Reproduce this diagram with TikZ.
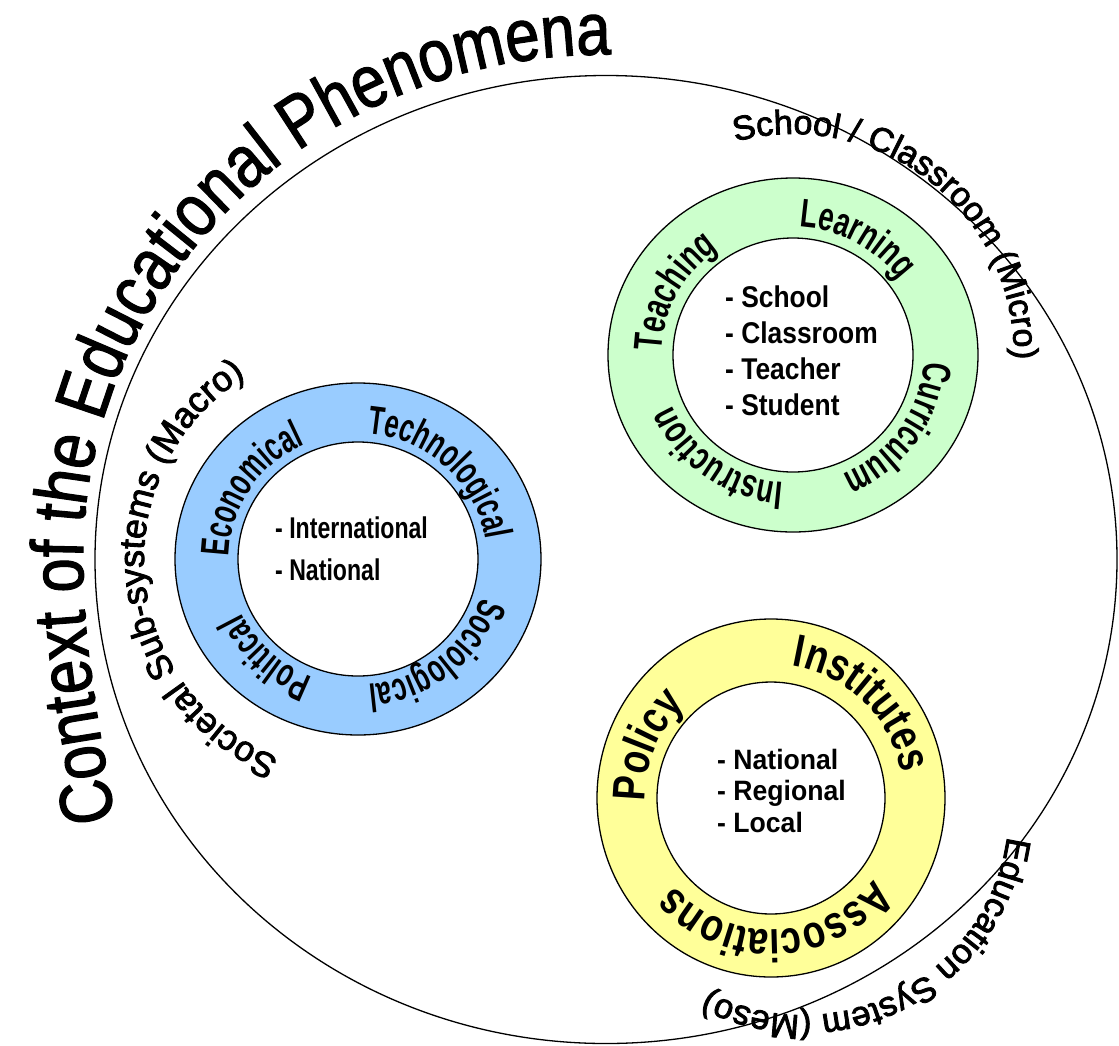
\documentclass[tikz,border=0pt]{standalone}
\usepackage{fontspec}
\setmainfont{Liberation Sans}
\usetikzlibrary{decorations.text}
\newfontfamily\fTitle[FakeStretch=0.835,FakeBold=1.5]{Liberation Sans}
\newfontfamily\fOuter[FakeBold=2.5]{Liberation Sans}
\newfontfamily\fBlue[FakeStretch=0.64]{Liberation Sans Bold}
\newfontfamily\fGreen[FakeStretch=0.69]{Liberation Sans Bold}
\newfontfamily\fYellow[FakeStretch=0.8]{Liberation Sans Bold}
\newfontfamily\fListB[FakeStretch=0.77]{Liberation Sans Bold}
\newfontfamily\fListG[FakeStretch=0.88]{Liberation Sans Bold}
\newfontfamily\fListY[FakeStretch=0.95]{Liberation Sans Bold}
\newcommand{\arclabel}[6]{%
  \path[decorate,decoration={text along path,text align=center,text={#6}}]
    (#1) ++(#4:#2 and #3) arc[start angle=#4,end angle=#5,x radius=#2,y radius=#3];}
\definecolor{ringblue}{HTML}{99CCFF}
\definecolor{ringgreen}{HTML}{CCFFCC}
\definecolor{ringyellow}{HTML}{FFFF99}
\begin{document}
\begin{tikzpicture}[x=1pt,y=1pt]
\tikzset{
  ringline/.style={draw=black,line width=1.3pt},
  listnode/.style={anchor=west,inner sep=0pt,align=left}
}
\useasboundingbox (0,0) rectangle (1119,-1045);
\coordinate (big) at (606,-559.5);
\coordinate (bc) at (358,-559);
\coordinate (gc) at (793,-355);
\coordinate (yc) at (771,-798);
\coordinate (ec) at (803,-809);
\coordinate (tstart) at (115,-820);
\coordinate (tleft) at (83,-559.5);
% big circle
\draw[ringline] (big) ellipse [x radius=511,y radius=484];
% rings
\draw[ringline,fill=ringblue] (bc) ellipse [x radius=183,y radius=176];
\draw[ringline,fill=white] (bc) ellipse [x radius=120,y radius=117];
\draw[ringline,fill=ringgreen] (gc) ellipse [x radius=185,y radius=177];
\draw[ringline,fill=white] (gc) ellipse [x radius=120,y radius=117];
\draw[ringline,fill=ringyellow] (yc) ellipse [x radius=174,y radius=179];
\draw[ringline,fill=white] (yc) ellipse [x radius=114,y radius=116];
% lists
\node[listnode,font=\fListB\fontsize{30}{42}\selectfont] (blist) at (275,-549) {- International\\- National};
\node[listnode,font=\fListG\fontsize{30}{36}\selectfont] (glist) at (725,-351) {- School\\- Classroom\\- Teacher\\- Student};
\node[listnode,font=\fListY\fontsize{28}{31.5}\selectfont] (ylist) at (717,-790.5) {- National\\- Regional\\- Local};
% blue ring labels
\arclabel{bc}{129}{126}{217}{77}{|\fBlue\fontsize{40}{42}\selectfont|Economical}
\arclabel{bc}{129}{126}{117}{-23}{|\fBlue\fontsize{40}{42}\selectfont|Technological}
\arclabel{bc}{129}{126}{19}{-121}{|\fBlue\fontsize{40}{42}\selectfont|Sociological}
\arclabel{bc}{129}{126}{-63}{-203}{|\fBlue\fontsize{40}{42}\selectfont|Political}
% green ring labels
\arclabel{gc}{131}{128}{222}{82}{|\fGreen\fontsize{40}{42}\selectfont|Teaching}
\arclabel{gc}{131}{128}{131}{-9}{|\fGreen\fontsize{40}{42}\selectfont|Learning}
\arclabel{gc}{131}{128}{35}{-105}{|\fGreen\fontsize{40}{42}\selectfont|Curriculum}
\arclabel{gc}{131}{128}{-56}{-196}{|\fGreen\fontsize{40}{42}\selectfont|Instruction}
% yellow ring labels
\arclabel{yc}{126}{128}{227}{87}{|\fYellow\fontsize{46}{48}\selectfont|Policy}
\arclabel{yc}{133}{134}{116}{-24}{|\fYellow\fontsize{46}{48}\selectfont|Institutes}
\arclabel{yc}{130}{132}{-18}{-158}{|\fYellow\fontsize{46}{48}\selectfont|Associations}
% outer labels
\arclabel{gc}{221}{221}{132}{-28}{|\fOuter\fontsize{34}{36}\selectfont|School / Classroom (Micro)}
\arclabel{bc}{214}{214}{255}{115}{|\fOuter\fontsize{35.5}{37}\selectfont|Societal Sub-systems (Macro)}
\arclabel{ec}{206}{206}{7.4}{-132.6}{|\fOuter\fontsize{34.5}{36}\selectfont|Education System (Meso)}
\path[decorate,decoration={text along path,text align=left,text={|\fTitle\fontsize{74}{78}\selectfont|Context of the Educational Phenomena}}]
  (tstart) .. controls (100,-730) and (83,-650) .. (tleft)
  arc[start angle=180,end angle=40,x radius=523,y radius=505];
\end{tikzpicture}
\end{document}
